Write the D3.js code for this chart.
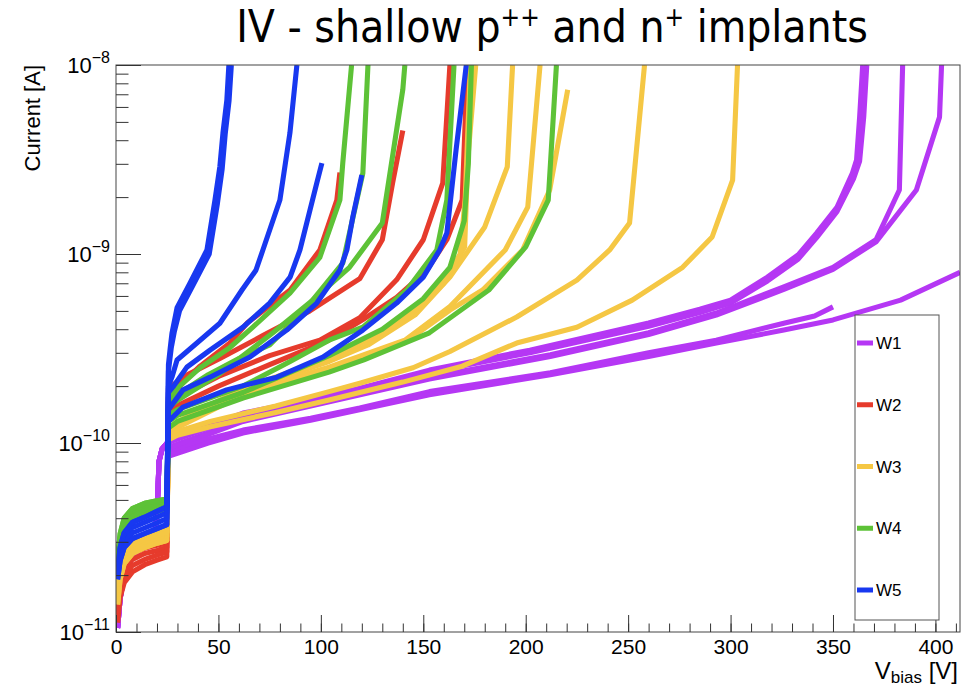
<!DOCTYPE html>
<html>
<head>
<meta charset="utf-8">
<script src="https://cdn.jsdelivr.net/npm/d3@7"></script>
<style>
  body { margin: 0; background: #fff; }
  text { font-family: "Liberation Sans", Arial, Helvetica, sans-serif; fill: #000; }
</style>
</head>
<body>
<div id="main"></div>
<script>
// **** Data: [V_bias (V), current (A)] ****
var wafers = ["W1", "W2", "W3", "W4", "W5"];

// low voltage part, below the step at ~25 V (edges of each band)
var w1Low = [[0.8,1.05e-11],[2,1.5e-11],[4,2.0e-11],[8,2.5e-11],[14,2.9e-11],[19,3.3e-11],[20.3,5.0e-11],[21,8.0e-11],[22.5,9.3e-11],[25,1.0e-10]];
var w2Low = [
  [[0.8,1.5e-11],[2,1.95e-11],[4,2.3e-11],[8,2.6e-11],[14,2.78e-11],[20,2.88e-11],[24.8,2.95e-11]],
  [[0.8,1.12e-11],[2,1.52e-11],[4,1.82e-11],[8,2.08e-11],[14,2.27e-11],[20,2.4e-11],[24.8,2.5e-11]],
  [[0.8,1.38e-11],[2,1.82e-11],[4,2.15e-11],[8,2.42e-11],[14,2.6e-11],[20,2.7e-11],[24.8,2.8e-11]],
  [[0.8,1.25e-11],[2,1.67e-11],[4,1.98e-11],[8,2.25e-11],[14,2.42e-11],[20,2.55e-11],[24.8,2.65e-11]]
];
var w3Low = [
  [[0.8,1.75e-11],[2,2.35e-11],[4,2.75e-11],[8,3.05e-11],[14,3.25e-11],[20,3.4e-11],[24.8,3.5e-11]],
  [[0.8,1.4e-11],[2,1.9e-11],[4,2.3e-11],[8,2.6e-11],[14,2.8e-11],[20,2.95e-11],[24.8,3.05e-11]],
  [[0.8,1.62e-11],[2,2.2e-11],[4,2.6e-11],[8,2.9e-11],[14,3.1e-11],[20,3.25e-11],[24.8,3.35e-11]],
  [[0.8,1.5e-11],[2,2.05e-11],[4,2.45e-11],[8,2.75e-11],[14,2.95e-11],[20,3.1e-11],[24.8,3.2e-11]]
];
var w4Low = [
  [[0.8,2.4e-11],[2,3.3e-11],[4,4.0e-11],[8,4.5e-11],[14,4.8e-11],[20,4.95e-11],[24.8,5.05e-11]],
  [[0.8,2.1e-11],[2,2.8e-11],[4,3.4e-11],[8,3.85e-11],[14,4.15e-11],[20,4.35e-11],[24.8,4.45e-11]],
  [[0.8,2.3e-11],[2,3.15e-11],[4,3.8e-11],[8,4.3e-11],[14,4.6e-11],[20,4.78e-11],[24.8,4.88e-11]],
  [[0.8,2.2e-11],[2,2.95e-11],[4,3.6e-11],[8,4.08e-11],[14,4.38e-11],[20,4.56e-11],[24.8,4.66e-11]]
];
var w5Low = [
  [[0.8,2.1e-11],[2,2.8e-11],[4,3.35e-11],[8,3.8e-11],[14,4.05e-11],[20,4.35e-11],[24.8,4.6e-11]],
  [[0.8,1.9e-11],[2,2.38e-11],[4,2.8e-11],[8,3.12e-11],[14,3.32e-11],[20,3.52e-11],[24.8,3.7e-11]],
  [[0.8,2.05e-11],[2,2.65e-11],[4,3.17e-11],[8,3.57e-11],[14,3.8e-11],[20,4.05e-11],[24.8,4.28e-11]],
  [[0.8,1.97e-11],[2,2.5e-11],[4,2.98e-11],[8,3.34e-11],[14,3.55e-11],[20,3.78e-11],[24.8,3.98e-11]]
];

// above the step
var w1Curves = [
  [[27,1.04e-10],[62,1.44e-10],[95,1.69e-10],[119,1.95e-10],[153,2.43e-10],[202,3.1e-10],[260,4.31e-10],[285,5.1e-10],[300,5.7e-10],[318,7.55e-10],[333,9.9e-10],[342,1.29e-9],[352,1.77e-9],[359.5,2.68e-9],[361.5,3.14e-9],[363,5.3e-9],[364.5,1e-8]],
  [[27,1.02e-10],[62,1.4e-10],[95,1.65e-10],[119,1.9e-10],[153,2.37e-10],[202,3.0e-10],[260,4.15e-10],[285,4.9e-10],[300,5.5e-10],[318,7.2e-10],[333,9.4e-10],[342,1.22e-9],[352,1.68e-9],[360,2.5e-9],[363,3.1e-9],[365,5.3e-9],[366.5,1e-8]],
  [[27,9.6e-11],[62,1.32e-10],[95,1.6e-10],[153,2.23e-10],[212,2.93e-10],[260,3.83e-10],[293,4.87e-10],[326,6.7e-10],[350,8.5e-10],[371,1.19e-9],[382.4,2.18e-9],[384,1e-8]],
  [[27,9.4e-11],[62,1.3e-10],[95,1.57e-10],[153,2.18e-10],[212,2.87e-10],[260,3.75e-10],[293,4.75e-10],[326,6.5e-10],[350,8.3e-10],[371,1.16e-9],[390.7,2.18e-9],[402,5.3e-9],[403,1e-8]],
  [[27,8.9e-11],[45,1.05e-10],[62,1.17e-10],[95,1.35e-10],[119,1.53e-10],[153,1.87e-10],[212,2.35e-10],[260,3.0e-10],[293,3.5e-10],[326,4.3e-10],[341,4.7e-10],[350,5.25e-10]],
  [[27,8.6e-11],[45,1.0e-10],[62,1.13e-10],[95,1.32e-10],[153,1.8e-10],[212,2.3e-10],[260,2.87e-10],[293,3.38e-10],[326,3.96e-10],[350,4.48e-10],[383,5.7e-10],[412,8.0e-10]]
];
var w2Curves = [
  [[25.6,1.75e-10],[33,2.1e-10],[41,2.55e-10],[55.6,3.38e-10],[64,4.31e-10],[85,6.45e-10],[99.5,1.05e-9],[107.8,1.93e-9],[109.3,2.7e-9]],
  [[25.6,1.95e-10],[35,2.3e-10],[50.7,2.8e-10],[71.7,3.7e-10],[94.6,5.0e-10],[119,7.4e-10],[130,1.19e-9],[135,2.37e-9],[140,4.5e-9]],
  [[25.6,1.65e-10],[50,2.25e-10],[75,2.9e-10],[99.5,3.5e-10],[119,4.6e-10],[137,7.3e-10],[150,1.19e-9],[159.5,2.37e-9],[163,1e-8]],
  [[25.6,1.5e-10],[50,2.0e-10],[75,2.6e-10],[104,3.5e-10],[120.5,4.5e-10],[137,5.9e-10],[151.7,8.2e-10],[161.5,1.19e-9],[169,1.93e-9],[171.5,1e-8]]
];
var w3Curves = [
  [[25.6,1.2e-10],[30,1.3e-10],[62,1.94e-10],[95,2.6e-10],[123,3.5e-10],[146,5.05e-10],[164.5,8.5e-10],[170.2,1.09e-9],[171.7,3.14e-9],[175.6,1e-8]],
  [[25.6,1.18e-10],[30,1.27e-10],[62,1.9e-10],[104,2.7e-10],[123,3.3e-10],[146,4.76e-10],[163,7.55e-10],[180,1.39e-9],[191,2.89e-9],[193.6,1e-8]],
  [[25.6,1.15e-10],[30,1.24e-10],[62,1.85e-10],[104,2.52e-10],[141,3.5e-10],[163,5.28e-10],[190,1.05e-9],[201,1.77e-9],[207,1e-8]],
  [[25.6,1.12e-10],[30,1.21e-10],[62,1.8e-10],[104,2.45e-10],[141,3.4e-10],[163,5.05e-10],[179,6.45e-10],[198.5,1.05e-9],[211.7,2.18e-9],[220.5,7.4e-9]],
  [[25.6,1.08e-10],[30,1.15e-10],[46,1.3e-10],[78,1.57e-10],[104,1.87e-10],[119,2.07e-10],[145,2.5e-10],[163,3.05e-10],[195.6,4.64e-10],[225,7.28e-10],[241,1.05e-9],[250.7,1.46e-9],[258,1e-8]],
  [[25.6,1.04e-10],[30,1.1e-10],[46,1.22e-10],[78,1.45e-10],[104,1.69e-10],[140,2.1e-10],[169,2.55e-10],[195.6,3.38e-10],[225,4.1e-10],[252,5.7e-10],[276.6,8.5e-10],[291,1.23e-9],[301,2.46e-9],[303.4,1e-8]],
  [[25.6,1.17e-10],[30,1.27e-10],[62,1.9e-10],[104,2.8e-10],[140,4.4e-10],[160,7.0e-10],[168,1.0e-9],[170.5,2.0e-9],[173,1e-8]]
];
var w4Curves = [
  [[25.6,1.75e-10],[30,1.95e-10],[41,2.5e-10],[55.6,3.2e-10],[66.8,4.1e-10],[84.9,6.2e-10],[99.5,9.6e-10],[109.3,1.93e-9],[110.7,3.03e-9],[115,1e-8]],
  [[25.6,1.65e-10],[30,1.8e-10],[45,2.3e-10],[60,2.8e-10],[75,3.3e-10],[93,5.2e-10],[110.7,8.95e-10],[120.5,2.68e-9],[123,1e-8]],
  [[25.6,1.55e-10],[30,1.68e-10],[50,2.3e-10],[76.6,3.83e-10],[96,5.7e-10],[114,8.5e-10],[130,1.46e-9],[140,7.4e-9],[141,1e-8]],
  [[25.6,1.4e-10],[30,1.5e-10],[62,2.0e-10],[85,2.7e-10],[104,3.5e-10],[120.5,4.1e-10],[142,6.45e-10],[156.6,1.05e-9],[161.5,1.93e-9],[165,1e-8]],
  [[25.6,1.3e-10],[30,1.4e-10],[62,1.85e-10],[104,2.9e-10],[130,4.0e-10],[150,5.8e-10],[163,8.5e-10],[170,1.5e-9],[172,3.0e-9],[173.5,1e-8]],
  [[25.6,1.2e-10],[30,1.3e-10],[62,1.73e-10],[104,2.37e-10],[121,2.75e-10],[153,3.83e-10],[182,6.45e-10],[200,1.09e-9],[211,1.93e-9],[215,1e-8]]
];
var w5Curves = [
  [[25.6,2.6e-10],[26.5,3.2e-10],[27.3,3.8e-10],[29.8,5.2e-10],[36.1,7.0e-10],[44.4,1.05e-9],[48.3,1.93e-9],[50.7,2.9e-9],[52.2,4.36e-9],[54.1,6.5e-9],[55.1,1e-8]],
  [[25.6,2.4e-10],[27,3.2e-10],[28.5,3.9e-10],[31,5.0e-10],[37.5,6.8e-10],[45.5,1.0e-9],[49.5,1.85e-9],[51.8,2.8e-9],[53.3,4.3e-9],[55.2,6.5e-9],[56.3,1e-8]],
  [[25.6,2.0e-10],[27.3,2.23e-10],[29.8,2.75e-10],[39.5,3.38e-10],[50.7,4.3e-10],[61.5,6.45e-10],[68.3,8.2e-10],[71.7,1.05e-9],[80,1.93e-9],[84.9,4.37e-9],[88.3,1e-8]],
  [[25.6,1.85e-10],[27.8,1.98e-10],[34.6,2.52e-10],[45.9,3.1e-10],[62,4.1e-10],[75,5.5e-10],[85,7.55e-10],[89.8,1.05e-9],[98,2.37e-9],[100.5,3.03e-9]],
  [[25.6,1.5e-10],[27.8,1.62e-10],[32.7,1.91e-10],[45.9,2.23e-10],[65.4,2.85e-10],[83.4,3.96e-10],[98,5.5e-10],[109.3,8.23e-10],[112.7,1.05e-9],[115.6,1.57e-9],[120,2.62e-9]],
  [[25.6,1.3e-10],[32.7,1.55e-10],[54,1.91e-10],[78.5,2.23e-10],[101,2.85e-10],[120.5,3.96e-10],[137,5.5e-10],[150,7.55e-10],[158,1.05e-9],[161.5,1.29e-9],[166,3.55e-9],[171,1e-8]]
];

// tick labels
var xTicks = [0, 50, 100, 150, 200, 250, 300, 350, 400];
var yDecades = [1e-11, 1e-10, 1e-9, 1e-8];
var yExponents = ["\u221211", "\u221210", "\u22129", "\u22128"];

var colors = ["#b537f4", "#e63b2c", "#f5c744", "#5dc237", "#1838f0"];

// **** Dimensions ****
var width = 963, height = 688;
var frame = {left: 116, right: 960, top: 65, bottom: 632};

var svg = d3.select("#main")
  .append("svg")
    .attr("width", width)
    .attr("height", height);

var x = d3.scaleLinear().domain([0, 412]).range([frame.left, frame.right]);
var y = d3.scaleLog().domain([1e-11, 1e-8]).range([frame.bottom, frame.top]);

svg.append("clipPath").attr("id", "clip")
  .append("rect")
    .attr("x", frame.left).attr("y", frame.top)
    .attr("width", frame.right - frame.left)
    .attr("height", frame.bottom - frame.top);

// **** Curves ****
var line = d3.line()
  .x(function(d) { return x(d[0]); })
  .y(function(d) { return y(d[1]); });

// each curve = low part (one of the band edges) + part above the step
var series = [
  w1Curves.map(function(c) { return w1Low.concat(c); }),
  w2Curves.map(function(c, i) { return w2Low[i % 4].concat(c); }),
  w3Curves.map(function(c, i) { return w3Low[i % 4].concat(c); }),
  w4Curves.map(function(c, i) { return w4Low[i % 4].concat(c); }),
  w5Curves.map(function(c, i) { return w5Low[i % 4].concat(c); })
];

var curves = svg.append("g").attr("clip-path", "url(#clip)");
series.forEach(function(list, k) {
  curves.append("g")
    .selectAll("path")
    .data(list)
    .enter()
    .append("path")
      .attr("d", line)
      .attr("fill", "none")
      .attr("stroke", colors[k])
      .attr("stroke-width", 5.1)
      .attr("stroke-linejoin", "round");
});

// **** Frame and axes ****
svg.append("rect")
  .attr("x", frame.left).attr("y", frame.top)
  .attr("width", frame.right - frame.left)
  .attr("height", frame.bottom - frame.top)
  .attr("fill", "none")
  .attr("stroke", "#444")
  .attr("stroke-width", 1);

var xMinor = d3.range(0, 412, 10);
svg.append("g")
  .attr("transform", "translate(0," + frame.bottom + ")")
  .call(d3.axisBottom(x).tickValues(xMinor).tickSize(-8.5).tickFormat(""))
  .call(function(g) { g.select(".domain").remove(); });

svg.append("g")
  .attr("transform", "translate(0," + frame.bottom + ")")
  .call(d3.axisBottom(x).tickValues(xTicks).tickSize(-17).tickPadding(7))
  .call(function(g) {
    g.select(".domain").remove();
    g.selectAll("text").style("font-size", "21px").style("font-family", "Liberation Sans, Arial, sans-serif").attr("fill", "#000");
  });

var yMinor = [];
yDecades.slice(0, 3).forEach(function(d) {
  for (var m = 2; m <= 9; m++) yMinor.push(d * m);
});

svg.append("g")
  .attr("transform", "translate(" + frame.left + ",0)")
  .call(d3.axisLeft(y).tickValues(yMinor).tickSize(-12.5).tickFormat(""))
  .call(function(g) { g.select(".domain").remove(); });

svg.append("g")
  .attr("transform", "translate(" + frame.left + ",0)")
  .call(d3.axisLeft(y).tickValues(yDecades).tickSize(-25).tickFormat(""))
  .call(function(g) { g.select(".domain").remove(); });

svg.selectAll(".tick line").attr("stroke", "#333");

// y tick labels 10^n
yDecades.forEach(function(d, i) {
  var t = svg.append("text")
    .attr("x", frame.left - 6)
    .attr("y", y(d) + 8)
    .attr("text-anchor", "end")
    .style("font-size", "22px");
  t.append("tspan").text("10");
  t.append("tspan").attr("dy", -10).style("font-size", "16px").text(yExponents[i]);
});

// axis titles
svg.append("text")
  .attr("transform", "translate(40," + frame.top + ") rotate(-90)")
  .attr("text-anchor", "end")
  .style("font-size", "22px")
  .text("Current [A]");

var xt = svg.append("text")
  .attr("x", 958)
  .attr("y", 679)
  .attr("text-anchor", "end")
  .style("font-size", "24px");
xt.append("tspan").text("V");
xt.append("tspan").attr("dy", 4).style("font-size", "17px").text("bias");
xt.append("tspan").attr("dy", -4).text(" [V]");

// title
var title = svg.append("text")
  .attr("x", 552)
  .attr("y", 42)
  .attr("text-anchor", "middle")
  .style("font-family", "'Liberation Sans Narrow', 'DejaVu Sans Condensed', sans-serif")
  .style("font-size", "44px");
title.append("tspan").text("IV - shallow p");
title.append("tspan").attr("dy", -16).style("font-size", "26px").text("++");
title.append("tspan").attr("dy", 16).text(" and n");
title.append("tspan").attr("dy", -16).style("font-size", "26px").text("+");
title.append("tspan").attr("dy", 16).text(" implants");

// **** Legend ****
var legend = svg.append("g");
legend.append("rect")
  .attr("x", 855).attr("y", 315)
  .attr("width", 84).attr("height", 305)
  .attr("fill", "#fff")
  .attr("stroke", "#555")
  .attr("stroke-width", 1);

var legendY = d3.scalePoint().domain(wafers).range([343, 590]);
wafers.forEach(function(w, i) {
  legend.append("line")
    .attr("x1", 857).attr("x2", 873)
    .attr("y1", legendY(w)).attr("y2", legendY(w))
    .attr("stroke", colors[i])
    .attr("stroke-width", 5);
  legend.append("text")
    .attr("x", 876)
    .attr("y", legendY(w) + 6)
    .style("font-size", "17px")
    .text(w);
});
</script>
</body>
</html>
